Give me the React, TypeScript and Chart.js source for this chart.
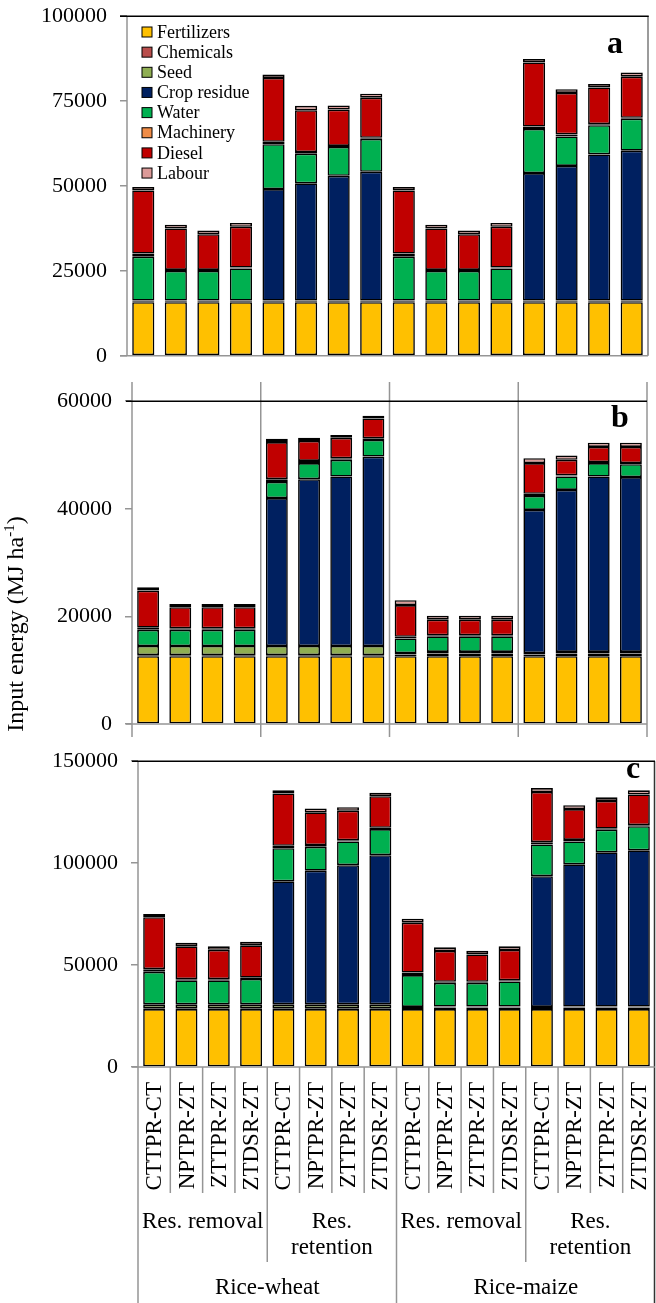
import React, { useEffect, useRef } from 'react';
import { Chart, registerables } from 'chart.js';

Chart.register(...registerables);

const FONT = "'Liberation Serif', 'Times New Roman', serif";

// ---------- categories / labels ----------
const categories = [
  'CTTPR-CT', 'NPTPR-ZT', 'ZTTPR-ZT', 'ZTDSR-ZT',
  'CTTPR-CT', 'NPTPR-ZT', 'ZTTPR-ZT', 'ZTDSR-ZT',
  'CTTPR-CT', 'NPTPR-ZT', 'ZTTPR-ZT', 'ZTDSR-ZT',
  'CTTPR-CT', 'NPTPR-ZT', 'ZTTPR-ZT', 'ZTDSR-ZT',
];
const residueGroups = [['Res. removal'], ['Res.', 'retention'], ['Res. removal'], ['Res.', 'retention']];
const systems = ['Rice-wheat', 'Rice-maize'];
const inputNames = ['Fertilizers', 'Chemicals', 'Seed', 'Crop residue', 'Water', 'Machinery', 'Diesel', 'Labour'];
const inputColors = ['#FFC000', '#B94E4C', '#8FAE52', '#002060', '#00B050', '#F08C46', '#C00000', '#DB9A98'];
const yTitle = 'Input energy (MJ ha';
const yTitleSup = '-1';

// ---------- panel a ----------
const aMax = 100000;
const aStep = 25000;
const aFertilizers = [15800, 15800, 15800, 15800, 15800, 15800, 15800, 15800, 15800, 15800, 15800, 15800, 15800, 15800, 15800, 15800];
const aChemicals = [250, 250, 250, 250, 250, 250, 250, 250, 250, 250, 250, 250, 250, 250, 250, 250];
const aSeed = [200, 200, 200, 200, 200, 200, 200, 200, 200, 200, 200, 200, 200, 200, 200, 200];
const aResidue = [0, 0, 0, 0, 32850, 34550, 36750, 37950, 0, 0, 0, 0, 37550, 39650, 43050, 44150];
const aWater = [12950, 8750, 8750, 9450, 13200, 8700, 8500, 9700, 12950, 8750, 8750, 9450, 13000, 8700, 8600, 9400];
const aMachinery = [900, 300, 300, 300, 700, 500, 300, 300, 900, 300, 300, 300, 700, 600, 300, 300];
const aDiesel = [18600, 12200, 10500, 12000, 18800, 12300, 10700, 11800, 18600, 12200, 10500, 12000, 18900, 12200, 10800, 12100];
const aLabour = [1000, 1100, 1100, 1100, 1000, 1300, 1200, 1200, 1000, 1100, 1100, 1100, 1000, 1100, 1000, 1200];

// ---------- panel b ----------
const bMax = 60000;
const bStep = 20000;
const bFertilizers = [12600, 12600, 12600, 12600, 12600, 12600, 12600, 12600, 12600, 12600, 12600, 12600, 12600, 12600, 12600, 12600];
const bChemicals = [200, 200, 200, 200, 200, 200, 200, 200, 300, 500, 500, 500, 300, 500, 500, 500];
const bSeed = [1700, 1700, 1700, 1700, 1700, 1700, 1700, 1700, 300, 300, 300, 300, 300, 300, 300, 300];
const bResidue = [0, 0, 0, 0, 27500, 31000, 31500, 35200, 0, 0, 0, 0, 26600, 30100, 32600, 32500];
const bWater = [3000, 3000, 3000, 3000, 3000, 3000, 3100, 3100, 2700, 2900, 2900, 2900, 2600, 2500, 2500, 2400];
const bMachinery = [400, 300, 300, 300, 500, 400, 300, 300, 300, 200, 200, 200, 400, 200, 200, 200];
const bDiesel = [6900, 3900, 3900, 3900, 6900, 3700, 3800, 3700, 5900, 2900, 2900, 2900, 5700, 2900, 2800, 3000];
const bLabour = [600, 600, 600, 600, 600, 600, 500, 500, 900, 700, 700, 700, 900, 800, 800, 800];

// ---------- panel c ----------
const cMax = 150000;
const cStep = 50000;
const cFertilizers = [28400, 28400, 28400, 28400, 28400, 28400, 28400, 28400, 28400, 28400, 28400, 28400, 28400, 28400, 28400, 28400];
const cChemicals = [450, 450, 450, 450, 450, 450, 450, 450, 550, 750, 750, 750, 550, 750, 750, 750];
const cSeed = [1900, 1900, 1900, 1900, 1900, 1900, 1900, 1900, 500, 500, 500, 500, 500, 500, 500, 500];
const cResidue = [0, 0, 0, 0, 60350, 65550, 68250, 73150, 0, 0, 0, 0, 64150, 69750, 75650, 76650];
const cWater = [15950, 11750, 11750, 12450, 16200, 11700, 11600, 12800, 15650, 11650, 11650, 12350, 15600, 11200, 11100, 11800];
const cMachinery = [1300, 600, 600, 600, 1200, 900, 600, 600, 1200, 500, 500, 500, 1100, 800, 500, 500];
const cDiesel = [25500, 16100, 14400, 15900, 25700, 16000, 14500, 15500, 24500, 15100, 13400, 14900, 24600, 15100, 13600, 15100];
const cLabour = [1600, 1700, 1700, 1700, 1600, 1900, 1700, 1700, 1900, 1800, 1800, 1800, 1900, 1900, 1800, 2000];

const W = 656;
const GRAY = '#959595';

type Area = { l: number; r: number; t: number; b: number };
type PanelProps = {
  id: 'a' | 'b' | 'c';
  canvasTop: number;
  canvasHeight: number;
  area: Area;
  series: number[][];
  yMax: number;
  yStep: number;
};

function seg(ctx: CanvasRenderingContext2D, x1: number, y1: number, x2: number, y2: number, color: string, lw = 1.5) {
  ctx.save();
  ctx.strokeStyle = color;
  ctx.lineWidth = lw;
  ctx.beginPath();
  ctx.moveTo(x1, y1);
  ctx.lineTo(x2, y2);
  ctx.stroke();
  ctx.restore();
}

function makePlugin(id: string, top: number) {
  return {
    id: 'frame_' + id,
    afterDraw(chart: any) {
      const ctx: CanvasRenderingContext2D = chart.ctx;
      const ca = chart.chartArea;
      const x = chart.scales.x;
      const n = categories.length;
      const P = (py: number) => py - top;
      const bnd = (i: number) =>
        i <= 0 ? ca.left : i >= n ? ca.right : (x.getPixelForValue(i - 1) + x.getPixelForValue(i)) / 2;

      ctx.save();
      if (id === 'a') {
        seg(ctx, ca.left, ca.top, ca.left, ca.bottom, GRAY);
        seg(ctx, ca.right, ca.top, ca.right, ca.bottom, '#7a7a7a');
        seg(ctx, ca.left - 7, ca.bottom, ca.right, ca.bottom, GRAY);
        seg(ctx, ca.left - 7, ca.top, ca.right + 0.75, ca.top, '#000');
        // legend
        ctx.font = `18px ${FONT}`;
        ctx.textBaseline = 'middle';
        ctx.textAlign = 'left';
        inputNames.forEach((name, i) => {
          const cy = P(32) + i * 20.15;
          ctx.fillStyle = inputColors[i];
          ctx.fillRect(142, cy - 5, 10, 10);
          ctx.strokeStyle = '#000';
          ctx.lineWidth = 1;
          ctx.strokeRect(142, cy - 5, 10, 10);
          ctx.fillStyle = '#000';
          ctx.fillText(name, 157, cy + 1);
        });
        ctx.font = `bold 32px ${FONT}`;
        ctx.textAlign = 'center';
        ctx.textBaseline = 'alphabetic';
        ctx.fillText('a', 615, P(53));
      } else if (id === 'b') {
        [0, 4, 8, 12, 16].forEach((i) => {
          const bx = bnd(i);
          seg(ctx, bx, P(382), bx, P(737), GRAY);
        });
        seg(ctx, ca.left - 6, ca.bottom, ca.right, ca.bottom, GRAY);
        seg(ctx, ca.left - 6, ca.top, ca.right, ca.top, '#000');
        ctx.fillStyle = '#000';
        ctx.font = `bold 32px ${FONT}`;
        ctx.textAlign = 'center';
        ctx.textBaseline = 'alphabetic';
        ctx.fillText('b', 620, P(427));
        // y axis title
        ctx.save();
        ctx.translate(15, P(624));
        ctx.rotate(-Math.PI / 2);
        ctx.textAlign = 'left';
        ctx.textBaseline = 'alphabetic';
        ctx.font = `24px ${FONT}`;
        const w1 = ctx.measureText(yTitle).width;
        const w3 = ctx.measureText(')').width;
        ctx.font = `15px ${FONT}`;
        const w2 = ctx.measureText(yTitleSup).width;
        const x0 = -(w1 + w2 + w3) / 2;
        ctx.font = `24px ${FONT}`;
        ctx.fillText(yTitle, x0, 8);
        ctx.fillText(')', x0 + w1 + w2, 8);
        ctx.font = `15px ${FONT}`;
        ctx.fillText(yTitleSup, x0 + w1, -1);
        ctx.restore();
      } else {
        const bottom = P(1303);
        seg(ctx, ca.left, ca.top, ca.left, bottom, GRAY);
        seg(ctx, ca.right - 0.5, ca.top, ca.right - 0.5, bottom, '#333');
        seg(ctx, ca.left - 6, ca.bottom, ca.right, ca.bottom, GRAY);
        seg(ctx, ca.left - 6, ca.top, ca.right, ca.top, '#000');
        for (let i = 1; i < n; i++) {
          const bx = bnd(i);
          const end = i % 8 === 0 ? bottom : i % 4 === 0 ? P(1262) : P(1193);
          seg(ctx, bx, ca.bottom, bx, end, GRAY);
        }
        ctx.fillStyle = '#000';
        ctx.font = `23px ${FONT}`;
        for (let i = 0; i < n; i++) {
          const cx = x.getPixelForValue(i);
          ctx.save();
          ctx.translate(cx + 1, P(1082));
          ctx.rotate(-Math.PI / 2);
          ctx.textAlign = 'right';
          ctx.textBaseline = 'middle';
          ctx.fillText(categories[i], 0, 0);
          ctx.restore();
        }
        ctx.textAlign = 'center';
        ctx.textBaseline = 'middle';
        residueGroups.forEach((lines, g) => {
          const cx = (bnd(g * 4) + bnd(g * 4 + 4)) / 2;
          lines.forEach((t, k) => ctx.fillText(t, cx, P(1222) + k * 26));
        });
        systems.forEach((s, k) => {
          const cx = (bnd(k * 8) + bnd(k * 8 + 8)) / 2;
          ctx.fillText(s, cx, P(1288));
        });
        ctx.font = `bold 32px ${FONT}`;
        ctx.textBaseline = 'alphabetic';
        ctx.fillText('c', 633, P(778));
      }
      ctx.restore();
    },
  };
}

function Panel({ id, canvasTop, canvasHeight, area, series, yMax, yStep }: PanelProps) {
  const ref = useRef<HTMLCanvasElement>(null);
  useEffect(() => {
    const canvas = ref.current;
    if (!canvas) return;
    const chart = new Chart(canvas, {
      type: 'bar',
      data: {
        labels: categories,
        datasets: inputNames.map((name, i) => ({
          label: name,
          data: series[i],
          backgroundColor: inputColors[i],
          borderColor: '#000',
          borderWidth: 1.6,
          borderSkipped: false,
          barPercentage: 0.68,
          categoryPercentage: 1,
        })),
      },
      options: {
        responsive: false,
        animation: false,
        devicePixelRatio: 1,
        events: [],
        layout: {
          padding: {
            left: 0,
            right: W - area.r,
            top: area.t - canvasTop,
            bottom: canvasTop + canvasHeight - area.b,
          },
        },
        plugins: { legend: { display: false }, tooltip: { enabled: false } },
        scales: {
          x: { type: 'category', stacked: true, display: false, grid: { display: false } },
          y: {
            stacked: true,
            min: 0,
            max: yMax,
            ticks: {
              stepSize: yStep,
              color: '#000',
              padding: 13,
              font: { family: FONT, size: 22 },
              callback: (v: any) => String(v),
            },
            grid: { display: true, drawOnChartArea: false, drawTicks: true, tickLength: 7, color: GRAY, lineWidth: 1.5 },
            border: { display: false },
            afterFit: (s: any) => {
              s.width = area.l;
            },
          },
        },
      },
      plugins: [makePlugin(id, canvasTop)],
    } as any);
    return () => chart.destroy();
  }, []);
  return (
    <canvas
      ref={ref}
      width={W}
      height={canvasHeight}
      style={{ position: 'absolute', left: 0, top: canvasTop, width: W, height: canvasHeight }}
    />
  );
}

export default function App() {
  return (
    <div style={{ position: 'absolute', left: 0, top: 0, width: W, height: 1303, overflow: 'hidden', background: '#fff' }}>
      <Panel
        id="a"
        canvasTop={-10}
        canvasHeight={392}
        area={{ l: 127, r: 648, t: 7, b: 367 }}
        series={[aFertilizers, aChemicals, aSeed, aResidue, aWater, aMachinery, aDiesel, aLabour]}
        yMax={aMax}
        yStep={aStep}
      />
      <Panel
        id="b"
        canvasTop={375}
        canvasHeight={380}
        area={{ l: 132, r: 647, t: 393, b: 724 }}
        series={[bFertilizers, bChemicals, bSeed, bResidue, bWater, bMachinery, bDiesel, bLabour]}
        yMax={bMax}
        yStep={bStep}
      />
      <Panel
        id="c"
        canvasTop={735}
        canvasHeight={568}
        area={{ l: 138, r: 655, t: 753, b: 1067 }}
        series={[cFertilizers, cChemicals, cSeed, cResidue, cWater, cMachinery, cDiesel, cLabour]}
        yMax={cMax}
        yStep={cStep}
      />
    </div>
  );
}
